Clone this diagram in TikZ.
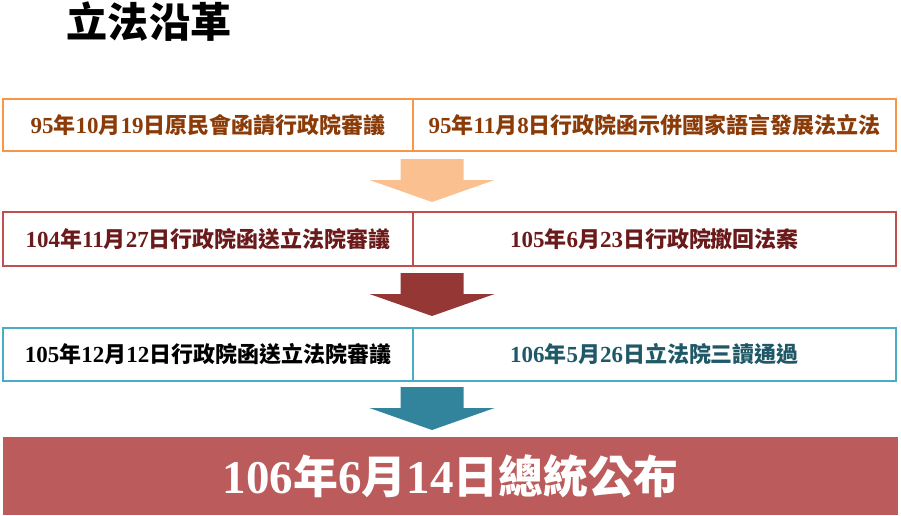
\documentclass[tikz,border=0pt]{standalone}
\usepackage{fontspec}
\setmainfont{Liberation Serif}
\newfontfamily\cjk[Scale=0.955]{Noto Sans CJK TC}
\newcommand\zh[1]{{\cjk #1}}
\definecolor{orB}{HTML}{F79646}
\definecolor{orT}{HTML}{8A3B08}
\definecolor{rdB}{HTML}{C0504D}
\definecolor{rdT}{HTML}{6A1A1A}
\definecolor{blB}{HTML}{4BACC6}
\definecolor{blT}{HTML}{1F5867}
\definecolor{arA}{HTML}{FAC090}
\definecolor{arB}{HTML}{953735}
\definecolor{arC}{HTML}{31849B}
\definecolor{fin}{HTML}{BC5B5B}
\begin{document}
\begin{tikzpicture}[x=1pt,y=-1pt]
\useasboundingbox (0,0) rectangle (901,515);
\tikzset{
  cell/.style={draw, line width=2.6pt, inner sep=0pt, outer sep=0pt,
    font=\bfseries\fontsize{23}{23}\selectfont},
  lcell/.style={cell, minimum width=410pt},
  rcell/.style={cell, minimum width=483pt},
  barrow/.pic={\fill (-31.5,0) -- (31.5,0) -- (31.5,21) -- (62.5,21) -- (0,43) -- (-62.5,21) -- (-31.5,21) -- cycle;}
}
\node[font=\bfseries\fontsize{43}{43}\selectfont, inner sep=0pt] (title) at (149,22) {\zh{立法沿革}};
% row 1
\node[lcell, draw=orB, text=orT, minimum height=52pt] (a1) at (208,125) {95\zh{年}10\zh{月}19\zh{日原民會函請行政院審議}};
\node[rcell, draw=orB, text=orT, minimum height=52pt] (a2) at (654.5,125) {95\zh{年}11\zh{月}8\zh{日行政院函示併國家語言發展法立法}};
\pic[fill=arA] at (432,159) {barrow};
% row 2
\node[lcell, draw=rdB, text=rdT, minimum height=54pt] (b1) at (208,239) {104\zh{年}11\zh{月}27\zh{日行政院函送立法院審議}};
\node[rcell, draw=rdB, text=rdT, minimum height=54pt] (b2) at (654.5,239) {105\zh{年}6\zh{月}23\zh{日行政院撤回法案}};
\pic[fill=arB] at (432,273) {barrow};
% row 3
\node[lcell, draw=blB, text=black, minimum height=53pt] (c1) at (208,354.5) {105\zh{年}12\zh{月}12\zh{日行政院函送立法院審議}};
\node[rcell, draw=blB, text=blT, minimum height=53pt] (c2) at (654.5,354.5) {106\zh{年}5\zh{月}26\zh{日立法院三讀通過}};
\pic[fill=arC] at (432,387) {barrow};
% final
\node[fill=fin, minimum width=895pt, minimum height=78pt, inner sep=0pt, text=white,
  font=\bfseries\fontsize{47}{47}\selectfont] (d) at (450.5,476) {106\zh{年}6\zh{月}14\zh{日總統公布}};
\end{tikzpicture}
\end{document}
